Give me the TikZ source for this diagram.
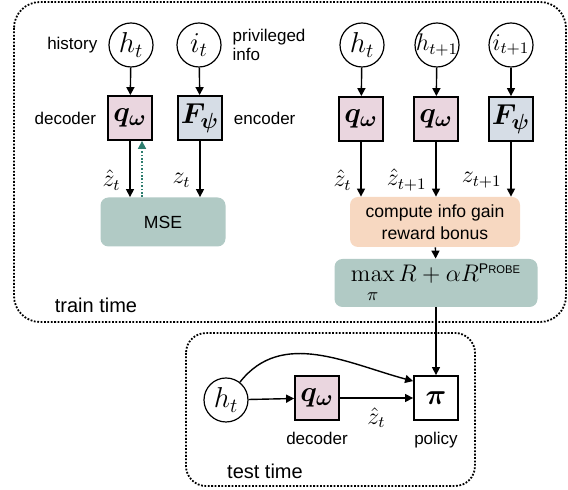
\documentclass[tikz,border=0pt]{standalone}
\usepackage{amsmath}
\usepackage{bm}
\usepackage[no-math]{fontspec}
\setmainfont{Liberation Sans}
\usetikzlibrary{arrows.meta}

\definecolor{decpink}{RGB}{234,214,223}
\definecolor{encblue}{RGB}{214,221,230}
\definecolor{lossteal}{RGB}{177,202,197}
\definecolor{gainpeach}{RGB}{247,216,193}
\definecolor{gradteal}{RGB}{45,125,110}

\begin{document}
\begin{tikzpicture}
        [x=0.5pt,y=-0.5pt,>={Triangle[length=4pt,width=4pt]},
         var/.style={draw,shape=circle,line width=0.6pt,inner sep=0,minimum size=22pt,font=\fontsize{14}{15}\selectfont},
         net/.style={draw,shape=rectangle,line width=0.9pt,inner sep=0,minimum size=22pt,font=\fontsize{15}{16}\selectfont},
         op/.style={shape=rectangle,rounded corners=4pt,inner sep=0,align=center,font=\fontsize{8.8}{11}\selectfont},
         every label/.style={font=\fontsize{8.5}{9.5}\selectfont,align=left},
         label distance=2pt,
         flow/.style={->,line width=0.7pt},
         zlab/.style={left=1pt,font=\fontsize{12}{13}\selectfont},
         frame/.style={line width=0.9pt,dash pattern=on 0.9pt off 0.8pt,rounded corners=13pt}]

        \useasboundingbox (0,0) rectangle (568,490);

        \draw[frame] (14,2) rectangle (566,322);
        \draw[frame,rounded corners=10pt] (186,333) rectangle (475,486);
        \node[font=\fontsize{10}{12}\selectfont] (train) at (96,305) {train time};
        \node[font=\fontsize{10}{12}\selectfont] (test) at (265,471) {test time};

        \node[var,label=left:{history}] (h1) at (131,45) {$h_t$};
        \node[var,label=right:{privileged\\info}] (i1) at (199,45) {$i_t$};
        \node[net,fill=decpink,label=left:{decoder}] (q1) at (130,118) {$\bm{q_\omega}$};
        \node[net,fill=encblue,label=right:{encoder}] (f1) at (200,118) {$\bm{F_\psi}$};
        \node[op,fill=lossteal,minimum width=62.5pt,minimum height=24.5pt] (mse) at (163,222) {MSE};

        \node[var] (h2) at (362,45) {$h_t$};
        \node[var,font=\fontsize{11.5}{13}\selectfont] (h3) at (437,45) {\makebox[0pt]{$h_{t+1}$}};
        \node[var,font=\fontsize{11.5}{13}\selectfont] (i2) at (511,45) {\makebox[0pt]{$i_{t+1}$}};
        \node[net,fill=decpink] (q2) at (361,119) {$\bm{q_\omega}$};
        \node[net,fill=decpink] (q3) at (436,119) {$\bm{q_\omega}$};
        \node[net,fill=encblue] (f2) at (511,119) {$\bm{F_\psi}$};
        \node[op,fill=gainpeach,minimum width=85pt,minimum height=25pt] (gain) at (435,222) {compute info gain\\reward bonus};
        \node[op,fill=lossteal,minimum width=101.5pt,minimum height=24pt,font=\fontsize{12.5}{14}\selectfont] (obj) at (436,283)
          {$\max\limits_{\lower2pt\hbox{$\scriptstyle\pi$}} R+\alpha R^{\text{\fontsize{7}{8}\selectfont P\fontsize{5.6}{6}\selectfont ROBE}}$};

        \node[var] (h4) at (226,400) {$h_t$};
        \node[net,fill=decpink,label=below:{decoder}] (q4) at (317,398) {$\bm{q_\omega}$};
        \node[net,label=below:{policy}] (pi) at (436,398) {$\bm{\pi}$};

        \draw[flow] (h1) -- (q1);
        \draw[flow] (i1) -- (f1);
        \draw[flow] (q1) -- (q1 |- mse.north) node[zlab,pos=0.7] {$\hat{z}_t$};
        \draw[flow] (f1) -- (f1 |- mse.north) node[zlab,pos=0.7] {$z_t$};
        \draw[->,gradteal,line width=0.8pt,dash pattern=on 0.8pt off 0.9pt] ([xshift=6pt]q1.south |- mse.north) -- ([xshift=6pt]q1.south);

        \draw[flow] (h2) -- (q2);
        \draw[flow] (h3) -- (q3);
        \draw[flow] (i2) -- (f2);
        \draw[flow] (q2) -- (q2 |- gain.north) node[zlab,pos=0.7] {$\hat{z}_t$};
        \draw[flow] (q3) -- (q3 |- gain.north) node[zlab,pos=0.7] {$\hat{z}_{t+1}$};
        \draw[flow] (f2) -- (f2 |- gain.north) node[zlab,pos=0.7] {$z_{t+1}$};
        \draw[flow] (gain) -- (obj);
        \draw[flow] (obj) -- (pi);

        \draw[flow] (h4) -- (q4);
        \draw[flow] (q4) -- (pi) node[midway,below=1pt,font=\fontsize{12}{13}\selectfont] {$\hat{z}_t$};
        \draw[flow] (h4) to[out=52,in=165] ([yshift=-3pt]pi.north west);
      \end{tikzpicture}
\end{document}
